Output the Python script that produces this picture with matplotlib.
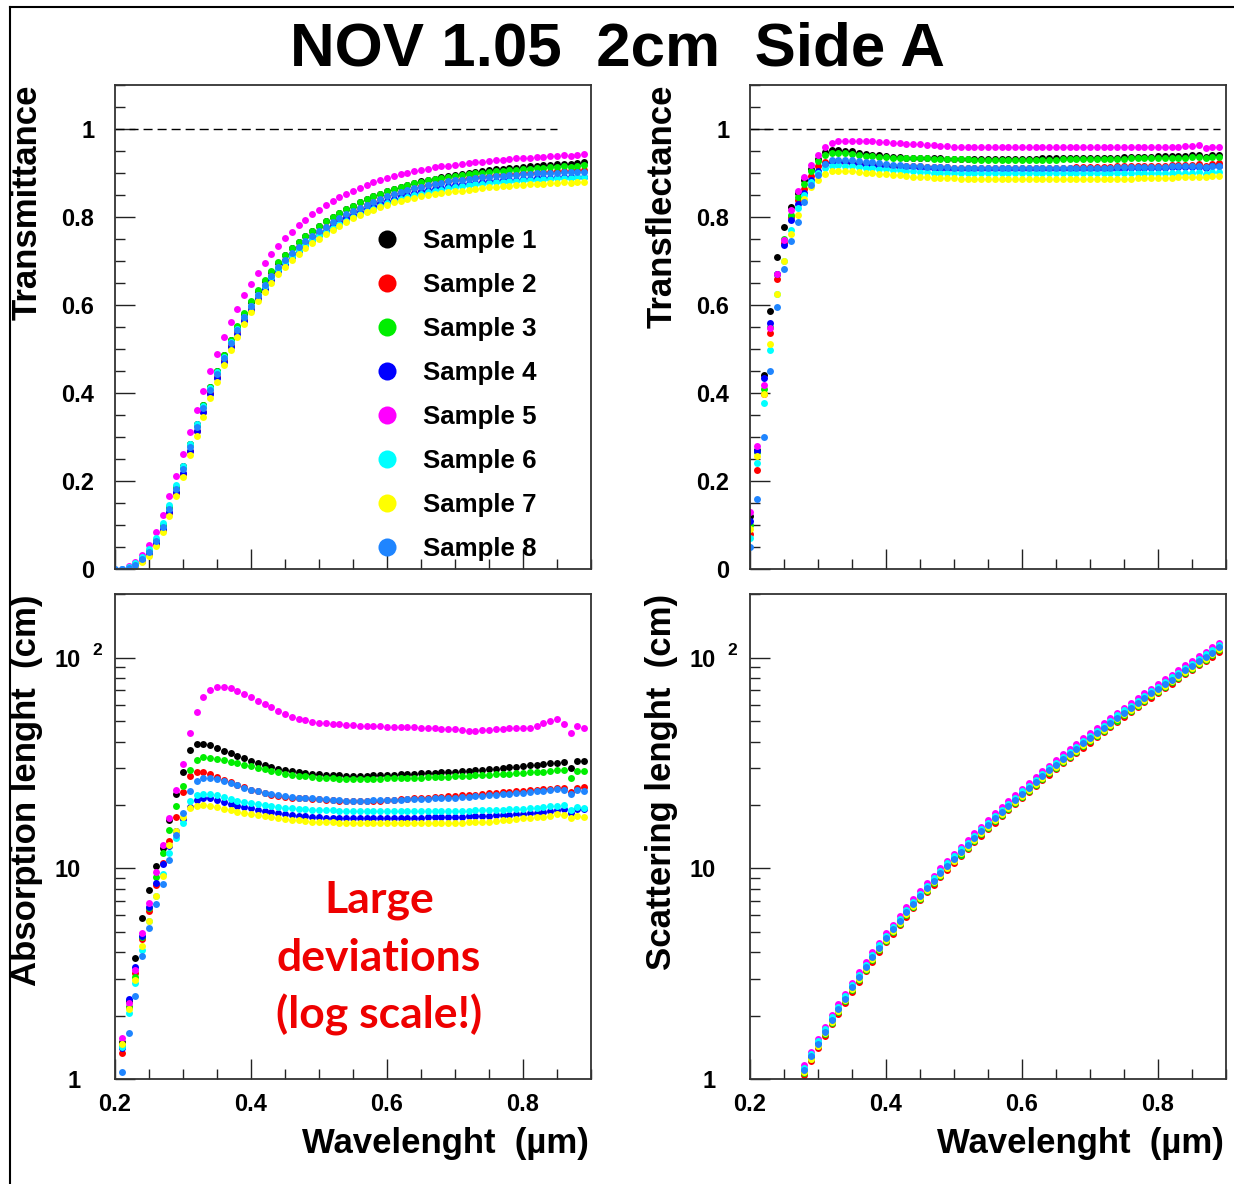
"""
NOV 1.05 2cm Side A: transmittance / transflectance / absorption / scattering
for eight samples (ROOT-style 2x2 canvas).
"""
import matplotlib
matplotlib.use("Agg")
import matplotlib.pyplot as plt
import numpy as np
from matplotlib.lines import Line2D
from matplotlib.ticker import (MultipleLocator, FixedLocator, FixedFormatter,
                               NullFormatter, LogLocator, FuncFormatter)

W, H = 1234, 1184
plt.rcParams.update({
    "font.family": ["Liberation Sans", "DejaVu Sans"],
    "font.weight": "bold",
})

# ---------------------------------------------------------------- data
WAVELENGTH = np.round(np.arange(0.20, 0.895, 0.01), 2)   # µm, 0.20 .. 0.89
ABS_WL = WAVELENGTH[1:]     # absorption starts at 0.21
SCAT_WL = WAVELENGTH[8:]    # scattering starts at 0.28

SAMPLES = ["Sample 1", "Sample 2", "Sample 3", "Sample 4",
           "Sample 5", "Sample 6", "Sample 7", "Sample 8"]
COLORS = ["#000000", "#ff0000", "#00ee00", "#0000ff",
          "#ff00ff", "#00ffff", "#ffff00", "#1f85ff"]

# Transmittance
TRANS_S1 = [-0.005, -0.003, 0.003, 0.011, 0.024, 0.041, 0.067, 0.100, 0.141, 0.187,
            0.233, 0.284, 0.329, 0.372, 0.413, 0.451, 0.487, 0.521, 0.551, 0.580,
            0.607, 0.632, 0.655, 0.676, 0.696, 0.713, 0.729, 0.743, 0.756, 0.768,
            0.780, 0.790, 0.800, 0.809, 0.818, 0.826, 0.833, 0.840, 0.847, 0.853,
            0.859, 0.864, 0.869, 0.873, 0.877, 0.881, 0.884, 0.887, 0.890, 0.893,
            0.896, 0.898, 0.901, 0.903, 0.905, 0.907, 0.908, 0.910, 0.911, 0.912,
            0.914, 0.915, 0.916, 0.918, 0.919, 0.920, 0.921, 0.920, 0.923, 0.924]
TRANS_S2 = [-0.005, -0.005, 0.000, 0.007, 0.018, 0.033, 0.056, 0.088, 0.128, 0.172,
            0.217, 0.268, 0.313, 0.357, 0.399, 0.437, 0.474, 0.509, 0.540, 0.569,
            0.596, 0.621, 0.644, 0.665, 0.685, 0.702, 0.717, 0.731, 0.744, 0.756,
            0.767, 0.777, 0.787, 0.796, 0.805, 0.813, 0.821, 0.828, 0.835, 0.841,
            0.847, 0.852, 0.857, 0.862, 0.866, 0.870, 0.873, 0.876, 0.879, 0.882,
            0.884, 0.886, 0.888, 0.890, 0.892, 0.894, 0.895, 0.896, 0.897, 0.898,
            0.899, 0.900, 0.901, 0.902, 0.903, 0.904, 0.905, 0.904, 0.906, 0.906]
TRANS_S3 = [-0.005, -0.003, 0.002, 0.010, 0.023, 0.040, 0.066, 0.099, 0.140, 0.186,
            0.232, 0.283, 0.328, 0.372, 0.413, 0.451, 0.487, 0.521, 0.552, 0.581,
            0.608, 0.633, 0.656, 0.677, 0.697, 0.714, 0.730, 0.744, 0.757, 0.769,
            0.780, 0.790, 0.800, 0.809, 0.818, 0.826, 0.833, 0.840, 0.847, 0.853,
            0.859, 0.864, 0.869, 0.873, 0.877, 0.880, 0.883, 0.886, 0.889, 0.891,
            0.894, 0.896, 0.898, 0.900, 0.901, 0.903, 0.904, 0.905, 0.906, 0.907,
            0.909, 0.910, 0.911, 0.912, 0.913, 0.914, 0.915, 0.913, 0.917, 0.918]
TRANS_S4 = [-0.003, -0.003, 0.000, 0.008, 0.019, 0.035, 0.059, 0.090, 0.130, 0.174,
            0.219, 0.269, 0.313, 0.356, 0.397, 0.434, 0.470, 0.504, 0.534, 0.563,
            0.589, 0.614, 0.636, 0.657, 0.677, 0.694, 0.709, 0.723, 0.736, 0.748,
            0.759, 0.769, 0.779, 0.788, 0.797, 0.805, 0.812, 0.819, 0.826, 0.832,
            0.837, 0.842, 0.847, 0.851, 0.855, 0.858, 0.861, 0.864, 0.867, 0.870,
            0.872, 0.874, 0.876, 0.878, 0.879, 0.881, 0.882, 0.883, 0.884, 0.885,
            0.886, 0.887, 0.888, 0.889, 0.889, 0.890, 0.891, 0.891, 0.892, 0.892]
TRANS_S5 = [-0.005, 0.000, 0.006, 0.016, 0.031, 0.055, 0.085, 0.122, 0.165, 0.212,
            0.262, 0.311, 0.361, 0.405, 0.449, 0.489, 0.527, 0.561, 0.592, 0.622,
            0.648, 0.672, 0.695, 0.716, 0.735, 0.752, 0.767, 0.781, 0.794, 0.806,
            0.817, 0.827, 0.836, 0.845, 0.853, 0.860, 0.867, 0.873, 0.879, 0.884,
            0.889, 0.893, 0.897, 0.901, 0.904, 0.907, 0.910, 0.913, 0.915, 0.917,
            0.919, 0.921, 0.923, 0.925, 0.926, 0.928, 0.929, 0.930, 0.932, 0.933,
            0.934, 0.935, 0.936, 0.937, 0.938, 0.939, 0.940, 0.939, 0.942, 0.943]
TRANS_S6 = [-0.003, 0.000, 0.005, 0.014, 0.027, 0.045, 0.071, 0.104, 0.145, 0.190,
            0.235, 0.285, 0.329, 0.371, 0.411, 0.447, 0.482, 0.515, 0.545, 0.573,
            0.598, 0.622, 0.643, 0.663, 0.682, 0.698, 0.712, 0.725, 0.737, 0.748,
            0.758, 0.767, 0.776, 0.784, 0.792, 0.800, 0.807, 0.813, 0.819, 0.825,
            0.831, 0.836, 0.841, 0.845, 0.849, 0.853, 0.856, 0.859, 0.862, 0.865,
            0.868, 0.870, 0.872, 0.874, 0.876, 0.878, 0.879, 0.880, 0.881, 0.882,
            0.883, 0.884, 0.885, 0.886, 0.887, 0.888, 0.889, 0.888, 0.890, 0.890]
TRANS_S7 = [-0.005, -0.005, 0.000, 0.006, 0.016, 0.030, 0.052, 0.083, 0.121, 0.165,
            0.208, 0.258, 0.302, 0.346, 0.388, 0.426, 0.463, 0.497, 0.528, 0.557,
            0.583, 0.608, 0.630, 0.651, 0.670, 0.687, 0.702, 0.716, 0.729, 0.741,
            0.751, 0.761, 0.771, 0.780, 0.789, 0.797, 0.804, 0.811, 0.817, 0.823,
            0.828, 0.833, 0.837, 0.841, 0.844, 0.847, 0.850, 0.852, 0.854, 0.856,
            0.858, 0.860, 0.862, 0.864, 0.866, 0.868, 0.869, 0.870, 0.871, 0.872,
            0.873, 0.874, 0.875, 0.876, 0.877, 0.878, 0.879, 0.877, 0.879, 0.879]
TRANS_S8 = [0.000, 0.000, 0.002, 0.010, 0.022, 0.039, 0.064, 0.096, 0.137, 0.182,
            0.227, 0.278, 0.322, 0.365, 0.406, 0.443, 0.479, 0.513, 0.543, 0.572,
            0.598, 0.623, 0.645, 0.666, 0.686, 0.703, 0.718, 0.732, 0.745, 0.757,
            0.768, 0.778, 0.788, 0.797, 0.806, 0.814, 0.821, 0.828, 0.835, 0.841,
            0.847, 0.852, 0.857, 0.861, 0.865, 0.869, 0.872, 0.875, 0.878, 0.881,
            0.883, 0.885, 0.887, 0.889, 0.890, 0.892, 0.893, 0.894, 0.895, 0.896,
            0.897, 0.898, 0.899, 0.900, 0.900, 0.901, 0.902, 0.902, 0.903, 0.903]

# Transflectance
TRANSF_S1 = [0.120, 0.270, 0.440, 0.586, 0.710, 0.777, 0.822, 0.855, 0.885, 0.910,
             0.932, 0.948, 0.953, 0.953, 0.951, 0.949, 0.946, 0.944, 0.942, 0.940,
             0.938, 0.937, 0.936, 0.935, 0.935, 0.934, 0.934, 0.933, 0.933, 0.932,
             0.932, 0.932, 0.931, 0.931, 0.931, 0.931, 0.931, 0.931, 0.932, 0.932,
             0.932, 0.932, 0.932, 0.933, 0.933, 0.933, 0.933, 0.933, 0.934, 0.934,
             0.934, 0.934, 0.935, 0.935, 0.935, 0.936, 0.936, 0.936, 0.937, 0.937,
             0.938, 0.938, 0.938, 0.939, 0.939, 0.940, 0.940, 0.937, 0.941, 0.941]
TRANSF_S2 = [0.080, 0.226, 0.398, 0.536, 0.660, 0.740, 0.800, 0.838, 0.863, 0.893,
             0.915, 0.925, 0.928, 0.927, 0.925, 0.923, 0.922, 0.921, 0.920, 0.919,
             0.918, 0.917, 0.917, 0.916, 0.916, 0.915, 0.914, 0.914, 0.913, 0.913,
             0.912, 0.912, 0.912, 0.911, 0.911, 0.911, 0.911, 0.911, 0.911, 0.911,
             0.911, 0.911, 0.911, 0.911, 0.912, 0.912, 0.912, 0.912, 0.913, 0.913,
             0.913, 0.913, 0.914, 0.914, 0.915, 0.915, 0.915, 0.916, 0.916, 0.917,
             0.917, 0.917, 0.918, 0.918, 0.919, 0.919, 0.920, 0.917, 0.921, 0.922]
TRANSF_S3 = [0.100, 0.265, 0.410, 0.550, 0.670, 0.750, 0.805, 0.846, 0.876, 0.905,
             0.928, 0.942, 0.946, 0.946, 0.945, 0.943, 0.941, 0.939, 0.938, 0.937,
             0.936, 0.935, 0.935, 0.934, 0.934, 0.933, 0.933, 0.932, 0.932, 0.931,
             0.931, 0.931, 0.931, 0.930, 0.930, 0.930, 0.930, 0.930, 0.930, 0.930,
             0.930, 0.930, 0.930, 0.930, 0.930, 0.930, 0.931, 0.931, 0.931, 0.931,
             0.931, 0.931, 0.932, 0.932, 0.932, 0.932, 0.933, 0.933, 0.933, 0.934,
             0.934, 0.934, 0.935, 0.935, 0.935, 0.936, 0.936, 0.934, 0.937, 0.937]
TRANSF_S4 = [0.110, 0.269, 0.435, 0.560, 0.670, 0.737, 0.793, 0.830, 0.854, 0.885,
             0.905, 0.920, 0.926, 0.926, 0.924, 0.922, 0.921, 0.919, 0.918, 0.917,
             0.916, 0.915, 0.914, 0.914, 0.913, 0.912, 0.912, 0.911, 0.910, 0.910,
             0.909, 0.909, 0.909, 0.908, 0.908, 0.908, 0.908, 0.908, 0.908, 0.908,
             0.908, 0.908, 0.908, 0.908, 0.908, 0.908, 0.909, 0.909, 0.909, 0.909,
             0.909, 0.909, 0.910, 0.910, 0.910, 0.910, 0.911, 0.911, 0.911, 0.912,
             0.912, 0.912, 0.913, 0.913, 0.913, 0.914, 0.914, 0.912, 0.915, 0.915]
TRANSF_S5 = [0.130, 0.280, 0.418, 0.547, 0.670, 0.748, 0.816, 0.858, 0.891, 0.918,
             0.940, 0.960, 0.968, 0.972, 0.973, 0.973, 0.973, 0.973, 0.972, 0.971,
             0.970, 0.969, 0.968, 0.967, 0.966, 0.965, 0.964, 0.963, 0.962, 0.961,
             0.960, 0.960, 0.960, 0.959, 0.959, 0.959, 0.959, 0.959, 0.959, 0.959,
             0.959, 0.959, 0.959, 0.959, 0.959, 0.959, 0.959, 0.958, 0.958, 0.958,
             0.958, 0.958, 0.958, 0.958, 0.958, 0.958, 0.958, 0.958, 0.958, 0.959,
             0.959, 0.959, 0.959, 0.960, 0.961, 0.962, 0.963, 0.957, 0.959, 0.959]
TRANSF_S6 = [0.070, 0.242, 0.377, 0.498, 0.625, 0.700, 0.770, 0.820, 0.850, 0.880,
             0.900, 0.912, 0.917, 0.918, 0.917, 0.915, 0.914, 0.912, 0.911, 0.909,
             0.908, 0.907, 0.906, 0.905, 0.904, 0.903, 0.902, 0.901, 0.901, 0.900,
             0.900, 0.900, 0.899, 0.899, 0.899, 0.899, 0.899, 0.899, 0.899, 0.899,
             0.899, 0.899, 0.899, 0.899, 0.899, 0.899, 0.899, 0.899, 0.899, 0.899,
             0.899, 0.899, 0.899, 0.899, 0.899, 0.899, 0.899, 0.900, 0.900, 0.900,
             0.900, 0.900, 0.900, 0.901, 0.901, 0.901, 0.902, 0.898, 0.902, 0.903]
TRANSF_S7 = [0.090, 0.257, 0.398, 0.511, 0.626, 0.701, 0.762, 0.805, 0.840, 0.868,
             0.885, 0.898, 0.904, 0.905, 0.905, 0.904, 0.902, 0.901, 0.899, 0.898,
             0.897, 0.896, 0.895, 0.894, 0.892, 0.891, 0.890, 0.889, 0.889, 0.888,
             0.888, 0.887, 0.887, 0.886, 0.886, 0.886, 0.886, 0.886, 0.886, 0.886,
             0.886, 0.886, 0.886, 0.886, 0.886, 0.886, 0.886, 0.886, 0.886, 0.886,
             0.886, 0.886, 0.886, 0.886, 0.887, 0.887, 0.887, 0.888, 0.888, 0.888,
             0.889, 0.889, 0.889, 0.890, 0.891, 0.892, 0.892, 0.890, 0.893, 0.893]
TRANSF_S8 = [0.050, 0.158, 0.301, 0.449, 0.595, 0.681, 0.745, 0.788, 0.833, 0.873,
             0.896, 0.920, 0.929, 0.930, 0.930, 0.929, 0.928, 0.926, 0.924, 0.922,
             0.920, 0.919, 0.918, 0.917, 0.916, 0.915, 0.914, 0.914, 0.913, 0.913,
             0.912, 0.912, 0.912, 0.911, 0.911, 0.911, 0.911, 0.911, 0.911, 0.911,
             0.911, 0.911, 0.911, 0.911, 0.911, 0.911, 0.911, 0.911, 0.912, 0.912,
             0.912, 0.912, 0.912, 0.912, 0.913, 0.913, 0.913, 0.913, 0.914, 0.914,
             0.914, 0.914, 0.915, 0.915, 0.915, 0.916, 0.916, 0.913, 0.916, 0.917]

# Absorption length (cm), 0.21 .. 0.89
ABS_S1 = [1.50, 2.35, 3.74, 5.80, 7.90, 10.3, 12.5, 17.0, 22.5,
          28.8, 36.6, 38.8, 39.0, 38.6, 37.5, 36.3, 35.3, 34.3, 33.3,
          32.4, 31.6, 30.9, 30.3, 29.8, 29.4, 29.0, 28.7, 28.4, 28.2,
          28.0, 27.9, 27.8, 27.7, 27.6, 27.6, 27.6, 27.6, 27.7, 27.7,
          27.8, 27.9, 28.0, 28.1, 28.2, 28.3, 28.4, 28.5, 28.6, 28.7,
          28.8, 28.9, 29.0, 29.2, 29.4, 29.6, 29.8, 30.0, 30.2, 30.4,
          30.7, 30.9, 31.1, 31.3, 31.5, 31.7, 31.9, 29.9, 32.4, 32.4]
ABS_S2 = [1.33, 2.20, 3.20, 4.60, 6.30, 8.30, 10.6, 13.5, 17.5,
          23.0, 27.5, 28.8, 28.6, 28.0, 27.2, 26.4, 25.6, 24.9, 24.3,
          23.7, 23.2, 22.8, 22.4, 22.1, 21.9, 21.7, 21.6, 21.5, 21.4,
          21.3, 21.2, 21.1, 21.0, 20.9, 20.9, 20.9, 20.9, 21.0, 21.0,
          21.1, 21.2, 21.3, 21.4, 21.5, 21.6, 21.7, 21.8, 21.9, 22.0,
          22.1, 22.2, 22.3, 22.4, 22.6, 22.7, 22.8, 23.0, 23.1, 23.2,
          23.4, 23.5, 23.6, 23.8, 23.9, 24.0, 24.0, 23.0, 24.2, 24.3]
ABS_S3 = [1.45, 2.20, 3.05, 4.70, 6.50, 9.10, 11.8, 15.2, 19.7,
          24.5, 29.4, 32.8, 34.0, 33.6, 33.2, 32.7, 32.1, 31.6, 31.0,
          30.5, 30.0, 29.5, 29.0, 28.6, 28.2, 27.9, 27.6, 27.4, 27.2,
          27.0, 26.9, 26.8, 26.7, 26.6, 26.6, 26.6, 26.6, 26.7, 26.7,
          26.8, 26.8, 26.9, 26.9, 27.0, 27.0, 27.1, 27.1, 27.2, 27.3,
          27.4, 27.5, 27.6, 27.7, 27.8, 27.9, 28.0, 28.1, 28.2, 28.3,
          28.5, 28.6, 28.7, 28.8, 29.0, 29.2, 29.3, 27.0, 29.1, 29.1]
ABS_S4 = [1.40, 2.40, 3.40, 4.80, 6.54, 8.50, 10.5, 12.8, 15.0,
          17.2, 19.6, 21.2, 21.6, 21.5, 21.1, 20.6, 20.2, 19.8, 19.5,
          19.3, 19.0, 18.8, 18.5, 18.3, 18.1, 17.9, 17.8, 17.7, 17.6,
          17.5, 17.4, 17.4, 17.3, 17.3, 17.3, 17.3, 17.3, 17.3, 17.3,
          17.3, 17.3, 17.3, 17.4, 17.4, 17.4, 17.5, 17.5, 17.5, 17.6,
          17.6, 17.6, 17.7, 17.7, 17.8, 17.8, 17.9, 18.0, 18.0, 18.1,
          18.2, 18.3, 18.4, 18.5, 18.7, 18.9, 19.1, 18.3, 19.2, 19.1]
ABS_S5 = [1.56, 2.30, 3.30, 4.92, 6.83, 9.60, 12.9, 17.3, 23.6,
          31.4, 43.9, 55.6, 65.5, 70.5, 72.6, 72.6, 72.0, 69.5, 67.2,
          65.0, 62.5, 60.4, 58.3, 56.2, 54.2, 52.6, 51.5, 50.5, 49.8,
          49.3, 49.0, 48.7, 48.4, 48.1, 47.9, 47.7, 47.5, 47.4, 47.3,
          47.2, 47.0, 46.9, 46.8, 46.7, 46.6, 46.4, 46.2, 46.0, 45.9,
          45.8, 45.5, 44.9, 45.1, 45.4, 45.6, 45.8, 46.0, 46.2, 46.3,
          46.4, 46.6, 47.6, 48.9, 50.4, 51.1, 48.4, 43.9, 47.5, 46.4]
ABS_S6 = [1.42, 2.05, 2.85, 4.10, 5.60, 7.40, 9.40, 11.8, 14.0,
          16.4, 21.0, 22.4, 22.6, 22.5, 22.2, 21.8, 21.4, 21.0, 20.6,
          20.4, 20.2, 20.0, 19.8, 19.6, 19.4, 19.3, 19.2, 19.1, 19.0,
          19.0, 18.9, 18.9, 18.8, 18.8, 18.8, 18.7, 18.7, 18.7, 18.7,
          18.7, 18.7, 18.7, 18.7, 18.7, 18.7, 18.8, 18.8, 18.8, 18.8,
          18.8, 18.8, 18.8, 18.9, 18.9, 18.9, 19.0, 19.0, 19.1, 19.1,
          19.2, 19.3, 19.4, 19.5, 19.7, 19.8, 19.9, 18.9, 19.5, 19.3]
ABS_S7 = [1.47, 2.15, 2.95, 4.28, 5.60, 7.40, 9.20, 12.9, 15.1,
          17.5, 19.3, 19.7, 19.9, 19.8, 19.5, 19.2, 18.9, 18.6, 18.4,
          18.2, 17.9, 17.7, 17.5, 17.3, 17.2, 17.0, 16.9, 16.8, 16.7,
          16.7, 16.6, 16.6, 16.5, 16.5, 16.4, 16.4, 16.4, 16.4, 16.4,
          16.4, 16.4, 16.4, 16.4, 16.4, 16.4, 16.4, 16.5, 16.5, 16.5,
          16.5, 16.5, 16.6, 16.6, 16.7, 16.7, 16.8, 16.9, 17.0, 17.1,
          17.3, 17.4, 17.5, 17.6, 17.8, 18.2, 17.9, 17.3, 17.8, 17.6]
ABS_S8 = [1.08, 1.66, 2.49, 3.84, 5.20, 6.80, 8.40, 11.0, 14.4,
          18.3, 23.2, 26.0, 27.0, 27.0, 26.6, 26.0, 25.4, 24.8, 24.2,
          23.7, 23.3, 22.9, 22.6, 22.3, 22.0, 21.8, 21.7, 21.6, 21.5,
          21.4, 21.3, 21.2, 21.1, 21.0, 21.0, 21.0, 21.0, 21.1, 21.1,
          21.1, 21.2, 21.2, 21.3, 21.3, 21.4, 21.4, 21.5, 21.5, 21.6,
          21.7, 21.8, 21.9, 22.0, 22.1, 22.3, 22.4, 22.5, 22.6, 22.7,
          22.9, 23.0, 23.2, 23.4, 23.6, 23.8, 23.5, 22.6, 23.5, 23.2]

# Scattering length (cm), 0.28 .. 0.89
SCAT_S1 = [1.09, 1.27,
           1.46, 1.66, 1.89, 2.12, 2.39, 2.69, 3.01, 3.37, 3.74, 4.17,
           4.61, 5.08, 5.58, 6.13, 6.71, 7.33, 7.97, 8.66, 9.41, 10.2,
           11.0, 11.9, 12.8, 13.8, 14.9, 15.9, 17.1, 18.3, 19.6, 20.9,
           22.4, 23.9, 25.4, 27.1, 28.9, 30.7, 32.7, 34.6, 36.6, 38.8,
           41.1, 43.6, 46.0, 48.7, 51.5, 54.5, 57.3, 60.5, 63.7, 67.1,
           70.6, 74.3, 78.1, 82.2, 86.4, 90.7, 95.4, 100, 105, 111]
SCAT_S2 = [1.05, 1.22,
           1.40, 1.60, 1.82, 2.04, 2.30, 2.60, 2.90, 3.25, 3.61, 4.02,
           4.45, 4.90, 5.39, 5.91, 6.47, 7.07, 7.69, 8.36, 9.08, 9.84,
           10.6, 11.5, 12.3, 13.3, 14.3, 15.4, 16.5, 17.7, 18.9, 20.2,
           21.6, 23.0, 24.5, 26.2, 27.9, 29.6, 31.5, 33.3, 35.3, 37.4,
           39.6, 42.0, 44.4, 47.0, 49.7, 52.5, 55.3, 58.4, 61.4, 64.7,
           68.1, 71.6, 75.3, 79.3, 83.4, 87.5, 92.1, 96.5, 101, 107]
SCAT_S3 = [1.07, 1.24,
           1.43, 1.63, 1.85, 2.08, 2.34, 2.64, 2.95, 3.30, 3.67, 4.08,
           4.52, 4.98, 5.47, 6.00, 6.58, 7.18, 7.81, 8.49, 9.22, 10.0,
           10.8, 11.6, 12.5, 13.5, 14.6, 15.6, 16.8, 17.9, 19.2, 20.5,
           21.9, 23.4, 24.9, 26.6, 28.3, 30.1, 32.0, 33.9, 35.9, 38.0,
           40.3, 42.7, 45.1, 47.7, 50.4, 53.4, 56.2, 59.3, 62.4, 65.8,
           69.2, 72.8, 76.5, 80.5, 84.7, 88.9, 93.5, 98.0, 103, 109]
SCAT_S4 = [1.11, 1.29,
           1.48, 1.70, 1.93, 2.16, 2.43, 2.75, 3.07, 3.43, 3.82, 4.25,
           4.71, 5.18, 5.70, 6.25, 6.85, 7.47, 8.13, 8.84, 9.61, 10.4,
           11.2, 12.1, 13.0, 14.0, 15.2, 16.3, 17.5, 18.7, 20.0, 21.3,
           22.8, 24.3, 26.0, 27.7, 29.5, 31.3, 33.3, 35.2, 37.4, 39.6,
           41.9, 44.4, 47.0, 49.7, 52.5, 55.6, 58.5, 61.7, 64.9, 68.5,
           72.0, 75.8, 79.7, 83.8, 88.2, 92.5, 97.4, 102, 107, 113]
SCAT_S5 = [1.16, 1.35,
           1.55, 1.77, 2.02, 2.26, 2.54, 2.87, 3.21, 3.59, 3.99, 4.44,
           4.92, 5.41, 5.95, 6.53, 7.15, 7.81, 8.49, 9.23, 10.0, 10.9,
           11.7, 12.7, 13.6, 14.7, 15.8, 17.0, 18.3, 19.5, 20.9, 22.3,
           23.8, 25.4, 27.1, 28.9, 30.8, 32.7, 34.8, 36.8, 39.0, 41.4,
           43.8, 46.4, 49.1, 51.9, 54.9, 58.0, 61.1, 64.5, 67.8, 71.5,
           75.2, 79.1, 83.2, 87.6, 92.1, 96.6, 102, 107, 112, 118]
SCAT_S6 = [1.13, 1.31,
           1.51, 1.72, 1.96, 2.19, 2.47, 2.79, 3.12, 3.49, 3.87, 4.32,
           4.78, 5.26, 5.78, 6.34, 6.95, 7.59, 8.25, 8.97, 9.75, 10.6,
           11.4, 12.3, 13.2, 14.2, 15.4, 16.5, 17.7, 19.0, 20.3, 21.6,
           23.2, 24.7, 26.3, 28.1, 29.9, 31.8, 33.8, 35.8, 37.9, 40.2,
           42.5, 45.1, 47.7, 50.4, 53.3, 56.4, 59.3, 62.6, 65.9, 69.5,
           73.1, 76.9, 80.9, 85.1, 89.5, 93.9, 98.8, 104, 109, 115]
SCAT_S7 = [1.08, 1.25,
           1.44, 1.65, 1.87, 2.10, 2.36, 2.67, 2.98, 3.33, 3.70, 4.13,
           4.57, 5.03, 5.53, 6.07, 6.64, 7.25, 7.89, 8.58, 9.32, 10.1,
           10.9, 11.8, 12.6, 13.6, 14.7, 15.8, 17.0, 18.1, 19.4, 20.7,
           22.1, 23.6, 25.2, 26.9, 28.6, 30.4, 32.3, 34.2, 36.3, 38.4,
           40.7, 43.1, 45.6, 48.2, 51.0, 53.9, 56.7, 59.9, 63.0, 66.4,
           69.9, 73.5, 77.3, 81.3, 85.6, 89.8, 94.5, 99.0, 104, 110]
SCAT_S8 = [1.10, 1.28,
           1.47, 1.68, 1.91, 2.14, 2.41, 2.72, 3.04, 3.40, 3.78, 4.21,
           4.66, 5.13, 5.64, 6.19, 6.78, 7.40, 8.05, 8.75, 9.51, 10.3,
           11.1, 12.0, 12.9, 13.9, 15.0, 16.1, 17.3, 18.5, 19.8, 21.1,
           22.6, 24.1, 25.7, 27.4, 29.2, 31.0, 33.0, 34.9, 37.0, 39.2,
           41.5, 44.0, 46.5, 49.2, 52.0, 55.0, 57.9, 61.1, 64.3, 67.8,
           71.3, 75.0, 78.9, 83.0, 87.3, 91.6, 96.4, 101, 106, 112]

TRANS = [TRANS_S1, TRANS_S2, TRANS_S3, TRANS_S4, TRANS_S5, TRANS_S6, TRANS_S7, TRANS_S8]
TRANSF = [TRANSF_S1, TRANSF_S2, TRANSF_S3, TRANSF_S4, TRANSF_S5, TRANSF_S6, TRANSF_S7, TRANSF_S8]
ABS = [ABS_S1, ABS_S2, ABS_S3, ABS_S4, ABS_S5, ABS_S6, ABS_S7, ABS_S8]
SCAT = [SCAT_S1, SCAT_S2, SCAT_S3, SCAT_S4, SCAT_S5, SCAT_S6, SCAT_S7, SCAT_S8]

UNITY = 1.0
UNITY_END_TRANS = 0.85
UNITY_END_TRANSF = 0.891

# ---------------------------------------------------------------- figure
fig = plt.figure(figsize=(W / 100, H / 100), dpi=100)
fig.patch.set_facecolor("white")


def px_axes(left, top, right, bottom):
    return fig.add_axes([left / W, 1 - bottom / H, (right - left) / W, (bottom - top) / H])


def style(ax, log=False, xlabels=True):
    ax.set_xlim(0.2, 0.9)
    ax.xaxis.set_major_locator(MultipleLocator(0.2))
    ax.xaxis.set_minor_locator(MultipleLocator(0.05))
    ax.tick_params(which="both", direction="in", top=False, right=False,
                   width=1.0, color="#222222", labelsize=17, labelcolor="black")
    ax.tick_params(which="major", length=14.4)
    ax.tick_params(which="minor", length=7.2)
    ax.tick_params(axis="x", pad=10, labelbottom=xlabels)
    for sp in ax.spines.values():
        sp.set_linewidth(1.3)
        sp.set_color("#333333")
    if log:
        ax.set_yscale("log")
        ax.set_ylim(1, 201)
        ax.yaxis.set_major_locator(FixedLocator([1, 10, 100]))
        ax.yaxis.set_major_formatter(FixedFormatter(["1", "10", "10"]))
        ax.yaxis.set_minor_locator(LogLocator(base=10, subs=range(2, 10)))
        ax.yaxis.set_minor_formatter(NullFormatter())
        ax.tick_params(axis="y", pad=25)
        ax.annotate("2", xy=(0, 100), xycoords=("axes fraction", "data"),
                    xytext=(-16, 5), textcoords="offset points",
                    fontsize=12.5, ha="left", va="center")
    else:
        ax.set_ylim(0, 1.1)
        ax.yaxis.set_major_locator(MultipleLocator(0.2))
        ax.yaxis.set_minor_locator(MultipleLocator(0.05))
        ax.yaxis.set_major_formatter(FuncFormatter(
            lambda v, p: "0" if abs(v) < 1e-9 else ("1" if abs(v - 1) < 1e-9 else f"{v:.1f}")))
        ax.tick_params(axis="y", pad=15)


def ylabel(ax, text):
    ax.text(-88 / 476, 1.0, text, transform=ax.transAxes, rotation=90,
            ha="center", va="top", fontsize=25)


def xlabel(ax):
    ax.text(0.995, -74 / 485, "Wavelenght  (µm)", transform=ax.transAxes,
            ha="right", va="baseline", fontsize=25)


def draw(ax, xs, series):
    for ys, c in zip(series, COLORS):
        ax.plot(xs, ys, "o", ms=5.0, mew=0, color=c)


ax_t = px_axes(115, 85, 591, 569)
ax_tf = px_axes(750, 85, 1226, 569)
ax_a = px_axes(115, 594, 591, 1079)
ax_s = px_axes(750, 594, 1226, 1079)

for ax in (ax_t, ax_tf):
    style(ax, log=False, xlabels=False)
for ax in (ax_a, ax_s):
    style(ax, log=True, xlabels=True)

dash = (0, (6.5, 3.6))
ax_t.plot([0.2, UNITY_END_TRANS], [UNITY, UNITY], color="black", lw=1.0, ls=dash)
ax_tf.plot([0.2, UNITY_END_TRANSF], [UNITY, UNITY], color="black", lw=1.0, ls=dash)

draw(ax_t, WAVELENGTH, TRANS)
draw(ax_tf, WAVELENGTH, TRANSF)
draw(ax_a, ABS_WL, ABS)
draw(ax_s, SCAT_WL, SCAT)

ylabel(ax_t, "Transmittance")
ylabel(ax_tf, "Transflectance")
ylabel(ax_a, "Absorption lenght  (cm)")
ylabel(ax_s, "Scattering lenght  (cm)")
xlabel(ax_a)
xlabel(ax_s)

# legend (ROOT style, no frame) inside the transmittance pad
for i, (lab, c) in enumerate(zip(SAMPLES, COLORS)):
    yc = 239.3 + 44 * i
    ax_t.plot((386.7 - 115) / 476, (569 - yc) / 484, "o", ms=13, mew=0,
              color=c, transform=ax_t.transAxes, clip_on=False)
    ax_t.text((423 - 115) / 476, (569 - yc - 9) / 484, lab, transform=ax_t.transAxes,
              fontsize=18.6, ha="left", va="baseline")

# red comment
note_x = (379 - 115) / 476
for line, base in [("Large", 913), ("deviations", 971), ("(log scale!)", 1028)]:
    ax_a.text(note_x, (1079 - base) / 485, line, transform=ax_a.transAxes,
              ha="center", va="baseline", fontsize=32, color="#ee0000",
              family=["Lato", "DejaVu Sans"], fontweight="bold")

fig.text(617 / W, 1 - 65 / H, "NOV 1.05  2cm  Side A", ha="center",
         va="baseline", fontsize=44.6, fontweight="bold")

# canvas frame (left and top edges visible)
fig.add_artist(Line2D([10 / W, 10 / W], [0, 1 - 7 / H], transform=fig.transFigure,
                      color="black", lw=1.5))
fig.add_artist(Line2D([10 / W, 1], [1 - 7 / H, 1 - 7 / H], transform=fig.transFigure,
                      color="black", lw=1.5))

fig.savefig("out.png", dpi=100)
plt.close(fig)
